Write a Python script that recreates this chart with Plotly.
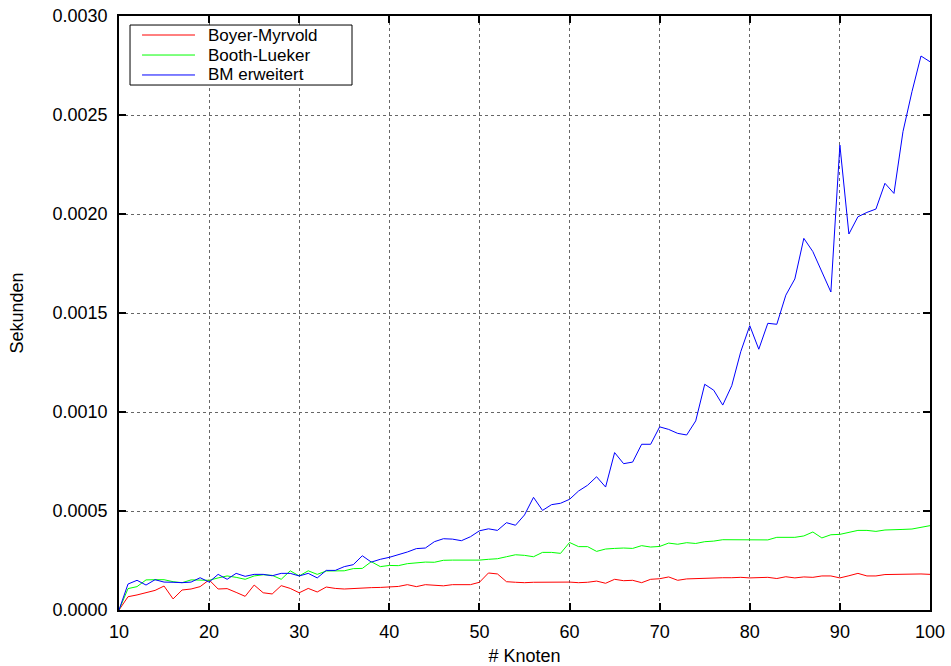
import plotly.graph_objects as go

knoten = list(range(10, 101))

boyer_myrvold = [
    0.00, 0.67, 0.76, 0.87, 0.99, 1.21, 0.56, 1.01, 1.06, 1.18,
    1.52, 1.06, 1.08, 0.89, 0.69, 1.26, 0.87, 0.81, 1.23, 1.09,
    0.87, 1.09, 0.91, 1.16, 1.09, 1.06, 1.09, 1.13, 1.13, 1.14,
    1.16, 1.19, 1.28, 1.18, 1.28, 1.25, 1.22, 1.28, 1.28, 1.28,
    1.40, 1.87, 1.82, 1.43, 1.40, 1.38, 1.40, 1.41, 1.40, 1.41,
    1.41, 1.38, 1.40, 1.46, 1.35, 1.55, 1.48, 1.50, 1.38, 1.55,
    1.58, 1.67, 1.50, 1.57, 1.59, 1.60, 1.60, 1.63, 1.63, 1.65,
    1.62, 1.62, 1.65, 1.59, 1.68, 1.62, 1.67, 1.65, 1.72, 1.72,
    1.62, 1.73, 1.85, 1.72, 1.72, 1.79, 1.80, 1.80, 1.80, 1.82,
    1.80,
]

booth_lueker = [
    0.00, 1.08, 1.18, 1.52, 1.53, 1.53, 1.43, 1.38, 1.52, 1.52,
    1.50, 1.62, 1.72, 1.65, 1.55, 1.72, 1.78, 1.75, 1.55, 1.98,
    1.72, 1.98, 1.80, 1.97, 1.97, 1.98, 2.09, 2.10, 2.44, 2.19,
    2.25, 2.24, 2.34, 2.39, 2.42, 2.41, 2.51, 2.52, 2.51, 2.51,
    2.52, 2.56, 2.59, 2.69, 2.79, 2.76, 2.69, 2.91, 2.91, 2.86,
    3.41, 3.20, 3.20, 2.96, 3.08, 3.11, 3.13, 3.11, 3.25, 3.18,
    3.21, 3.38, 3.32, 3.40, 3.36, 3.45, 3.48, 3.55, 3.55, 3.55,
    3.57, 3.57, 3.54, 3.67, 3.67, 3.67, 3.74, 3.94, 3.64, 3.80,
    3.82, 3.91, 4.02, 4.02, 3.97, 4.04, 4.07, 4.07, 4.09, 4.18,
    4.26,
]

bm_erweitert = [
    0.00, 1.31, 1.50, 1.26, 1.53, 1.41, 1.40, 1.38, 1.41, 1.63,
    1.41, 1.80, 1.55, 1.85, 1.70, 1.80, 1.80, 1.73, 1.85, 1.85,
    1.72, 1.85, 1.62, 2.00, 2.00, 2.19, 2.29, 2.74, 2.42, 2.56,
    2.66, 2.79, 2.93, 3.10, 3.13, 3.45, 3.60, 3.58, 3.50, 3.70,
    4.00, 4.10, 4.02, 4.41, 4.28, 4.80, 5.69, 5.03, 5.32, 5.39,
    5.59, 6.01, 6.30, 6.73, 6.21, 7.95, 7.39, 7.47, 8.37, 8.37,
    9.25, 9.12, 8.92, 8.84, 9.55, 11.40, 11.10, 10.35, 11.33, 13.05,
    14.36, 13.17, 14.48, 14.43, 15.90, 16.72, 18.77, 18.10, 17.09, 16.06,
    23.48, 18.99, 19.86, 20.08, 20.25, 21.55, 21.04, 24.16, 26.18, 27.98,
    27.69,
]

series_names = ["Boyer-Myrvold", "Booth-Lueker", "BM erweitert"]
series_values = [boyer_myrvold, booth_lueker, bm_erweitert]
series_colors = ["#ff0000", "#00ff00", "#0000ff"]
scale = 1e-4

font_family = "Liberation Sans, Arial, sans-serif"

fig = go.Figure()
for name, vals, color in zip(series_names, series_values, series_colors):
    fig.add_trace(go.Scatter(
        x=knoten,
        y=[v * scale for v in vals],
        mode="lines",
        name=name,
        showlegend=False,
        line=dict(color=color, width=1),
    ))

# gnuplot-style key box (paper coordinates of the plot area)
key_x0, key_x1 = 0.0136, 0.2873
key_y0, key_y1 = 0.8838, 0.9848
sample_x0, sample_x1 = 0.0284, 0.0937
text_x = 0.1085
row_y = [0.9680, 0.9343, 0.9007]

fig.add_shape(type="rect", xref="paper", yref="paper",
              x0=key_x0, x1=key_x1, y0=key_y0, y1=key_y1,
              line=dict(color="black", width=1), fillcolor="white", layer="above")
for name, color, ry in zip(series_names, series_colors, row_y):
    fig.add_shape(type="line", xref="paper", yref="paper",
                  x0=sample_x0, x1=sample_x1, y0=ry, y1=ry,
                  line=dict(color=color, width=1), layer="above")
    fig.add_annotation(xref="paper", yref="paper", x=text_x, y=ry,
                       text=name, showarrow=False, xanchor="left", yanchor="middle",
                       borderpad=0,
                       font=dict(family=font_family, size=17, color="black"))

axis_common = dict(
    showline=True,
    linecolor="black",
    linewidth=1.5,
    mirror="allticks",
    ticks="inside",
    ticklen=7,
    tickwidth=1.5,
    tickcolor="black",
    showgrid=True,
    gridcolor="#666666",
    griddash="dot",
    gridwidth=1,
    zeroline=False,
    automargin=False,
    tickfont=dict(family=font_family, size=18, color="black"),
    title_font=dict(family=font_family, size=18, color="black"),
)

fig.update_xaxes(
    range=[10, 100],
    tick0=10,
    dtick=10,
    title_text="# Knoten",
    title_standoff=10,
    ticklabelstandoff=5,
    **axis_common,
)
fig.update_yaxes(
    range=[0, 0.003],
    tick0=0,
    dtick=0.0005,
    tickformat=".4f",
    title_text="Sekunden",
    title_standoff=24,
    ticklabelstandoff=6,
    **axis_common,
)

fig.update_layout(
    width=951,
    height=666,
    margin=dict(l=119, r=21, t=16, b=56, autoexpand=False),
    paper_bgcolor="white",
    plot_bgcolor="white",
    font=dict(family=font_family, size=18, color="black"),
    showlegend=False,
)

fig.write_html(
    "out.html",
    config={"displayModeBar": False},
    post_script="document.body.style.margin='0';document.body.style.padding='0';",
)
